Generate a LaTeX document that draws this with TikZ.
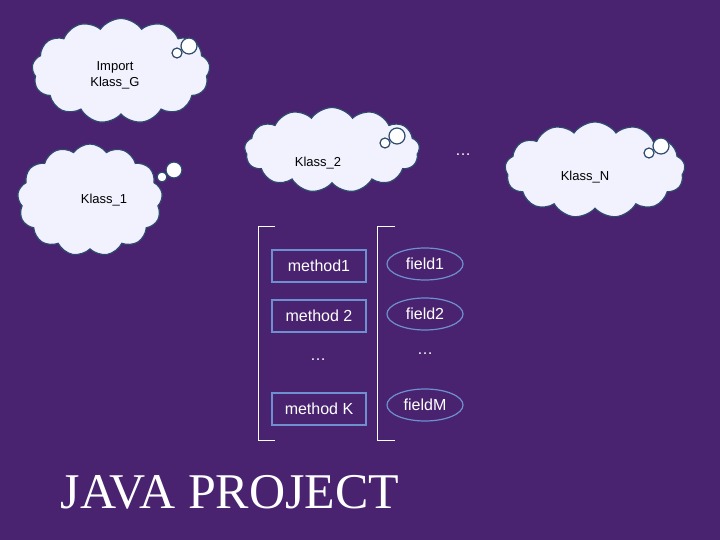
\documentclass[tikz,border=0pt]{standalone}
\usepackage{fontspec}
\setmainfont{Liberation Sans}
\usetikzlibrary{shapes.symbols,shapes.geometric}
\definecolor{bgpurple}{HTML}{4A2370}
\definecolor{edgeblue}{HTML}{6E8FD0}
\definecolor{cloudedge}{HTML}{2E4A6E}
\tikzset{
  klass/.style={cloud, cloud puffs=13, cloud puff arc=110, aspect=1.8, fill=white!95!blue,
    draw=cloudedge, line width=1.2pt, inner sep=0pt, font=\fontsize{13}{15}\selectfont, text=black},
  meth/.style={draw=edgeblue, line width=1.2pt, minimum width=94pt, minimum height=32pt,
    text=white, font=\fontsize{16}{18}\selectfont},
  fld/.style={ellipse, draw=edgeblue, line width=1.2pt, minimum width=76pt, minimum height=32pt,
    text=white, font=\fontsize{16}{18}\selectfont},
  bubble/.style={draw=cloudedge, line width=1.2pt, fill=white},
  brack/.style={draw=white, line width=0.9pt}
}
\begin{document}
\begin{tikzpicture}[x=1pt, y=-1pt]
    % Background.
    \fill[bgpurple] (0,0) rectangle (720,540);
    \useasboundingbox (0,0) rectangle (720,540);
    % Clouds.
    \node[klass, minimum width=178pt, minimum height=105pt] (klassg) at (121,71) {};
    \node[klass, minimum width=145pt, minimum height=112pt] (klass1) at (90,200) {};
    \node[klass, minimum width=175pt, minimum height=85pt] (klass2) at (332,150) {};
    \node[klass, minimum width=180pt, minimum height=96pt] (klassn) at (595,170) {};
    % Cloud labels.
    \node[align=center, font=\fontsize{13}{16}\selectfont] (lg) at (115,75) {Import\\Klass\_G};
    \node[font=\fontsize{13}{15}\selectfont] (l1) at (104,200) {Klass\_1};
    \node[font=\fontsize{13}{15}\selectfont] (l2) at (318,163) {Klass\_2};
    \node[font=\fontsize{13}{15}\selectfont] (ln) at (585,177) {Klass\_N};
    \node[text=white, font=\fontsize{16}{18}\selectfont] (dotsk) at (463,155) {\dots};
    % Small bubbles.
    \foreach \bx/\by in {183/48, 168/172, 391/138, 655/148} {
      \draw[bubble] (\bx+6,\by-2) circle (8);
      \draw[bubble] (\bx-6,\by+5) circle (5);
    }
    % Brackets.
    \draw[brack] (275,226) -- (258,226) -- (258,440) -- (275,440);
    \draw[brack] (395,226) -- (377,226) -- (377,440) -- (395,440);
    % Methods.
    \node[meth] (m1) at (319,266) {method1};
    \node[meth] (m2) at (319,316) {method 2};
    \node[text=white, font=\fontsize{16}{18}\selectfont] (mdots) at (318,360) {\dots};
    \node[meth] (mk) at (319,409) {method K};
    % Fields.
    \node[fld] (f1) at (425,264) {field1};
    \node[fld] (f2) at (425,314) {field2};
    \node[text=white, font=\fontsize{16}{18}\selectfont] (fdots) at (425,354) {\dots};
    \node[fld] (fm) at (425,405) {fieldM};
    % Title.
    \node[text=white, font=\fontspec{Liberation Serif}\fontsize{50}{54}\selectfont] (title) at (230,492) {JAVA PROJECT};
\end{tikzpicture}
\end{document}
